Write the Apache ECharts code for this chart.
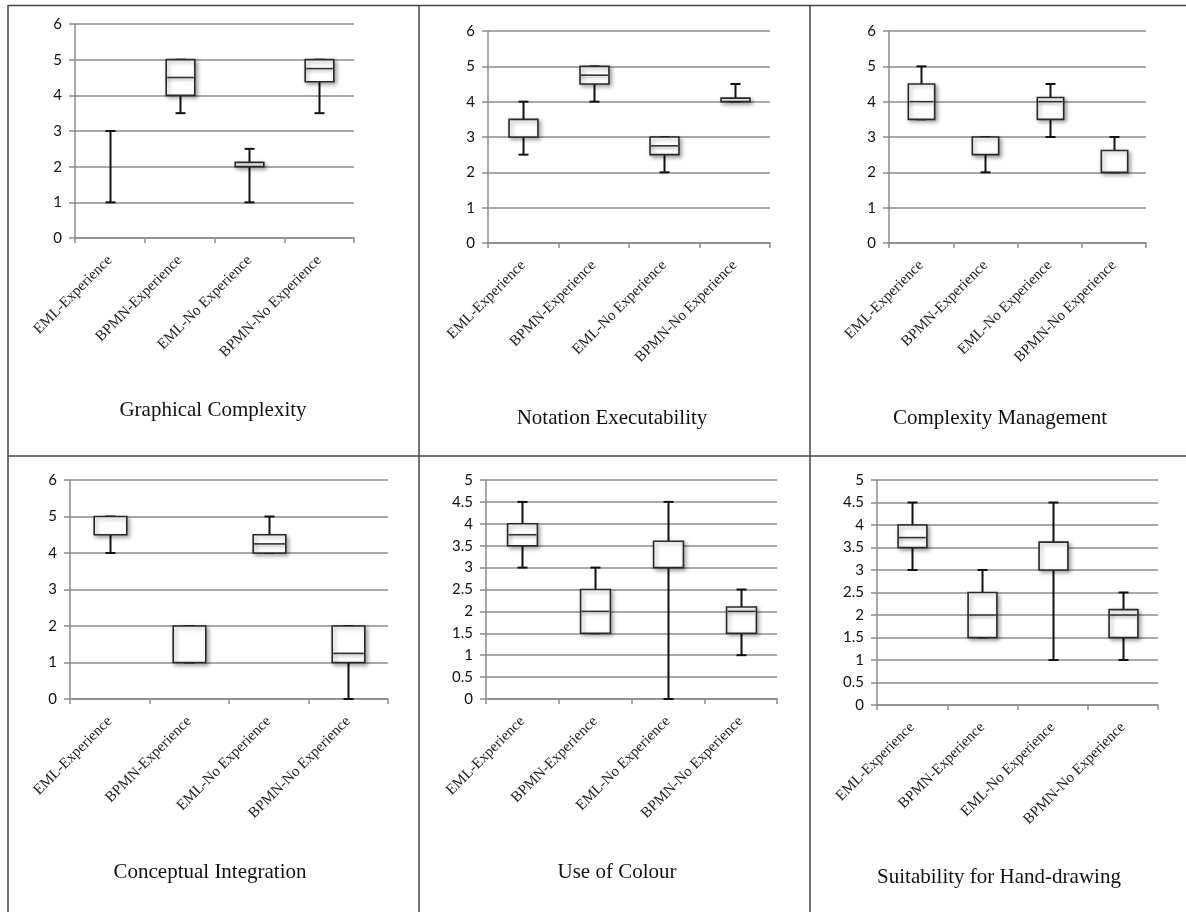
<!DOCTYPE html>
<html>
<head>
<meta charset="utf-8">
<script src="https://cdn.jsdelivr.net/npm/echarts@6/dist/echarts.min.js"></script>
<style>
html,body{margin:0;padding:0;background:#fff;}
#main{width:1186px;height:912px;}
</style>
</head>
<body>
<div id="main"></div>
<script>
// Categories (x-axis tick labels)
var categories = ['EML-Experience', 'BPMN-Experience', 'EML-No Experience', 'BPMN-No Experience'];

// Box values per category: [min, Q1, median, Q3, max]
var graphicalComplexity   = [[1, 2, 2, 2, 3], [3.5, 4, 4.5, 5, 5], [1, 2, 2, 2.12, 2.5], [3.5, 4.38, 4.75, 5, 5]];
var notationExecutability = [[2.5, 3, 3, 3.5, 4], [4, 4.5, 4.75, 5, 5], [2, 2.5, 2.75, 3, 3], [4, 4, 4, 4.1, 4.5]];
var complexityManagement  = [[3.5, 3.5, 4, 4.5, 5], [2, 2.5, 3, 3, 3], [3, 3.5, 4, 4.12, 4.5], [2, 2, 2, 2.62, 3]];
var conceptualIntegration = [[4, 4.5, 5, 5, 5], [1, 1, 2, 2, 2], [4, 4, 4.25, 4.5, 5], [0, 1, 1.25, 2, 2]];
var useOfColour           = [[3, 3.5, 3.75, 4, 4.5], [1.5, 1.5, 2, 2.5, 3], [0, 3, 3, 3.6, 4.5], [1, 1.5, 2, 2.1, 2.5]];
var handDrawing           = [[3, 3.5, 3.72, 4, 4.5], [1.5, 1.5, 2, 2.5, 3], [1, 3, 3, 3.62, 4.5], [1, 1.5, 2, 2.12, 2.5]];

// Panel titles
var panelTitles = ['Graphical Complexity', 'Notation Executability', 'Complexity Management',
                   'Conceptual Integration', 'Use of Colour', 'Suitability for Hand-drawing'];

// Y-axis scales per panel
var yMax = [6, 6, 6, 6, 5, 5];
var yStep = [1, 1, 1, 1, 0.5, 0.5];

var panelData = [graphicalComplexity, notationExecutability, complexityManagement,
                 conceptualIntegration, useOfColour, handDrawing];

// layout (pixels)
var grids = [
  {left: 75,  top: 24,  width: 279, height: 214},
  {left: 488, top: 31,  width: 282, height: 212},
  {left: 889, top: 31,  width: 257, height: 212},
  {left: 70,  top: 480, width: 318, height: 219},
  {left: 486, top: 480, width: 291, height: 219},
  {left: 877, top: 480, width: 281, height: 225}
];
var titlePos = [[213, 410], [612, 418], [1000, 418], [210, 872], [617, 872], [999, 877]];

var gridColor = '#8c8c8c';

function renderBox(params, api) {
  var ci = api.value(0);
  var pMin = api.coord([ci, api.value(1)]);
  var pQ1 = api.coord([ci, api.value(2)]);
  var pMed = api.coord([ci, api.value(3)]);
  var pQ3 = api.coord([ci, api.value(4)]);
  var pMax = api.coord([ci, api.value(5)]);
  var band = api.size([1, 0])[0];
  var bw = band * 0.41;
  var cw = 10;
  var cx = Math.round(pMin[0]) + 0.5;
  var wStyle = {stroke: '#111', lineWidth: 2};
  var whiskers = [];
  var boxes = [];
  if (api.value(1) < api.value(2)) {
    whiskers.push({type: 'line', shape: {x1: cx, y1: pQ1[1], x2: cx, y2: pMin[1]}, style: wStyle});
  }
  if (api.value(5) > api.value(4)) {
    whiskers.push({type: 'line', shape: {x1: cx, y1: pQ3[1], x2: cx, y2: pMax[1]}, style: wStyle});
  }
  whiskers.push({type: 'line', shape: {x1: cx - cw / 2, y1: pMin[1], x2: cx + cw / 2, y2: pMin[1]}, style: wStyle});
  whiskers.push({type: 'line', shape: {x1: cx - cw / 2, y1: pMax[1], x2: cx + cw / 2, y2: pMax[1]}, style: wStyle});
  if (api.value(4) > api.value(2)) {
    boxes.push({
      type: 'rect',
      shape: {x: cx - bw / 2, y: pQ3[1], width: bw, height: pQ1[1] - pQ3[1]},
      style: {fill: '#fff', stroke: '#2a2a2a', lineWidth: 1.6,
              shadowBlur: 4, shadowOffsetX: 2, shadowOffsetY: 2, shadowColor: 'rgba(0,0,0,0.35)'}
    });
    if (api.value(3) > api.value(2) && api.value(3) < api.value(4)) {
      boxes.push({
        type: 'line',
        shape: {x1: cx - bw / 2 + 1, y1: pMed[1], x2: cx + bw / 2 - 1, y2: pMed[1]},
        style: {stroke: '#333', lineWidth: 1.6,
                shadowBlur: 3, shadowOffsetY: 2, shadowColor: 'rgba(0,0,0,0.3)'}
      });
    }
  }
  return {type: 'group', children: whiskers.concat(boxes)};
}

var option = {
  animation: false,
  backgroundColor: '#fff',
  grid: grids.map(function (g) { return Object.assign({containLabel: false}, g); }),
  xAxis: grids.map(function (g, i) {
    return {
      type: 'category', gridIndex: i, data: categories, boundaryGap: true,
      axisLine: {show: true, lineStyle: {color: gridColor, width: 1.5}},
      axisTick: {show: true, length: 5, lineStyle: {color: gridColor, width: 1.5}},
      axisLabel: {rotate: 45, interval: 0, margin: 20, color: '#222',
                  fontFamily: 'Liberation Serif', fontSize: 15},
      splitLine: {show: false}
    };
  }),
  yAxis: grids.map(function (g, i) {
    return {
      type: 'value', gridIndex: i, min: 0, max: yMax[i], interval: yStep[i],
      axisLine: {show: true, lineStyle: {color: gridColor, width: 1.5}},
      axisTick: {show: true, length: 6, lineStyle: {color: gridColor, width: 1.5}},
      axisLabel: {color: '#111', fontFamily: 'Lato', fontSize: 15, margin: 13},
      splitLine: {show: true, lineStyle: {color: gridColor, width: 1.5}}
    };
  }),
  series: panelData.map(function (d, i) {
    return {
      type: 'custom', xAxisIndex: i, yAxisIndex: i,
      renderItem: renderBox,
      encode: {x: 0, y: [1, 2, 3, 4, 5]},
      data: d.map(function (v, k) { return [k].concat(v); }),
      z: 5
    };
  }),
  graphic: [
    {type: 'line', shape: {x1: 8, y1: 5.5, x2: 1186, y2: 5.5}, style: {stroke: '#444', lineWidth: 1.5}},
    {type: 'line', shape: {x1: 8, y1: 456, x2: 1186, y2: 456}, style: {stroke: '#444', lineWidth: 1.5}},
    {type: 'line', shape: {x1: 8, y1: 5, x2: 8, y2: 912}, style: {stroke: '#444', lineWidth: 1.5}},
    {type: 'line', shape: {x1: 419, y1: 5, x2: 419, y2: 912}, style: {stroke: '#444', lineWidth: 1.5}},
    {type: 'line', shape: {x1: 810, y1: 5, x2: 810, y2: 912}, style: {stroke: '#444', lineWidth: 1.5}}
  ].concat(panelTitles.map(function (t, i) {
    return {
      type: 'text', x: titlePos[i][0], y: titlePos[i][1],
      style: {text: t, fill: '#111', font: '21px "Liberation Serif"', textAlign: 'center', textVerticalAlign: 'middle'}
    };
  }))
};

var chart = echarts.init(document.getElementById('main'));
chart.setOption(option);
</script>
</body>
</html>
